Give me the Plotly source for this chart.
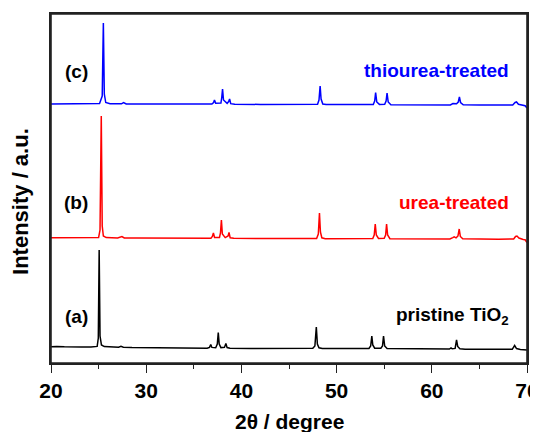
import plotly.graph_objects as go

# ---- data (intensity, a.u., relative to each pattern's own zero) ----
x_a = [20.0, 20.6, 21.4, 22.3, 23.2, 24.2, 24.85, 24.97, 25.06, 25.15, 25.3, 25.6, 26.3, 27.1, 27.35, 27.6,
       28.5, 30.5, 32.5, 34.5, 36.4, 36.65, 36.78, 36.9, 37.3, 37.47, 37.57, 37.67, 37.85, 38.22, 38.37, 38.5,
       38.8, 41.0, 44.0, 47.5, 47.72, 47.87, 47.98, 48.15, 48.5, 51.0, 53.4, 53.58, 53.7, 53.8, 54.0, 54.65,
       54.82, 54.93, 55.05, 55.3, 57.5, 60.0, 61.85, 62.02, 62.15, 62.45, 62.6, 62.72, 62.95, 63.5, 66.0,
       68.45, 68.7, 68.9, 69.3, 70.0]
y_a = [3.3, 3.6, 3.2, 3.4, 3.1, 3.0, 3.6, 12, 100, 14, 5, 3.4, 2.9, 2.8, 3.6, 2.7,
       2.4, 2.1, 2.0, 1.8, 1.8, 2.6, 5.5, 2.6, 2.2, 6, 17.5, 6, 2.4, 2.6, 6.5, 2.4,
       1.8, 1.6, 1.5, 1.7, 4, 23, 6, 2.2, 1.4, 1.2, 1.5, 4, 14, 5, 1.8, 1.8,
       4, 14, 4, 1.4, 1.0, 0.8, 0.9, 2.0, 1.2, 1.6, 10, 3.5, 1.2, 0.7, 0.5,
       0.7, 4.5, 1.4, 0.4, 0.1]

x_b = [20.0, 21.0, 22.5, 24.0, 25.0, 25.15, 25.28, 25.38, 25.5, 25.8, 27.0, 27.45, 27.7, 29.0, 32.0, 35.0,
       36.8, 36.95, 37.06, 37.18, 37.7, 37.8, 37.9, 38.0, 38.3, 38.6, 38.7, 38.82, 39.2, 42.0, 45.0, 47.9,
       48.08, 48.2, 48.3, 48.45, 48.8, 51.0, 53.8, 53.95, 54.06, 54.17, 54.4, 55.0, 55.15, 55.25, 55.36,
       55.6, 58.0, 61.9, 62.2, 62.35, 62.55, 62.75, 62.88, 63.0, 63.25, 64.5, 67.0, 68.6, 68.8, 68.95,
       69.15, 69.6, 69.8, 70.0]
y_b = [2.2, 2.3, 2.1, 2.1, 2.4, 10, 124, 14, 4, 2.4, 2.1, 3.5, 2.0, 1.9, 1.8, 1.7,
       1.8, 3.5, 7, 2.6, 2.6, 7, 20, 6, 2.4, 4, 7.5, 2.2, 1.7, 1.5, 1.4, 1.6,
       6, 27, 8, 2.2, 1.3, 1.2, 1.5, 5, 16, 5, 1.6, 1.8, 5, 16, 5,
       1.3, 1.0, 1.0, 2.4, 3.2, 2.2, 4, 11, 3.5, 1.2, 0.8, 0.7, 1.0, 3.5, 4,
       2, 0.5, 0.2, -2.5]

x_c = [20.0, 21.5, 23.0, 25.1, 25.38, 25.5, 25.6, 25.75, 26.2, 27.4, 27.62, 27.9, 30.0, 33.0, 36.9, 37.08,
       37.17, 37.3, 37.85, 37.93, 38.02, 38.12, 38.5, 38.66, 38.76, 38.88, 39.3, 42.0, 45.0, 48.0, 48.15,
       48.27, 48.37, 48.55, 48.9, 51.0, 53.85, 54.0, 54.1, 54.22, 54.5, 55.05, 55.2, 55.3, 55.42, 55.7,
       58.0, 61.95, 62.22, 62.38, 62.6, 62.78, 62.9, 63.02, 63.3, 65.0, 68.5, 68.75, 68.9, 69.1, 69.5,
       69.8, 70.0]
y_c = [2.0, 2.3, 2.1, 2.4, 10, 83, 12, 3.5, 2.3, 2.2, 3.5, 2.0, 1.9, 1.8, 1.9, 3.5,
       6, 2.8, 3, 8, 17, 6, 2.6, 4.5, 7, 2.3, 1.7, 1.6, 1.5, 1.7, 6,
       20, 7, 2.0, 1.4, 1.3, 1.5, 5, 13.5, 4, 1.6, 1.8, 5, 13, 4, 1.3,
       1.1, 1.0, 2.4, 2.5, 2.3, 4, 9, 3.5, 1.2, 0.9, 1.0, 3.5, 4, 1.8, 0.5,
       0.3, -2]

offset_a, offset_b, offset_c = 13, 123, 257
labels = ["pristine TiO<sub>2</sub>", "urea-treated", "thiourea-treated"]
tags = ["(a)", "(b)", "(c)"]
colors = ["#000000", "#ff0000", "#0000ff"]
x_ticks = [20, 30, 40, 50, 60, 70]

FONT = "Liberation Sans, Arial, sans-serif"
AX = "#222222"

fig = go.Figure()
for xs, ys, off, col in [(x_a, y_a, offset_a, colors[0]),
                         (x_b, y_b, offset_b, colors[1]),
                         (x_c, y_c, offset_c, colors[2])]:
    fig.add_trace(go.Scatter(x=xs, y=[v + off for v in ys], mode="lines",
                             line=dict(color=col, width=1.5), showlegend=False,
                             hoverinfo="skip"))

# tags and labels
tag_y = [47, 160.5, 292]
lab_y = [47, 161, 293]
for t, ty in zip(tags, tag_y):
    fig.add_annotation(x=22.65, y=ty, xref="x", yref="y", text=t, showarrow=False,
                       font=dict(family=FONT, size=19, color="#000000", weight="bold"),
                       xanchor="center", yanchor="middle")
for lab, ly, col in zip(labels, lab_y, colors):
    fig.add_annotation(x=68.3, y=ly, xref="x", yref="y", text=lab, showarrow=False,
                       font=dict(family=FONT, size=19, color=col, weight="bold"),
                       xanchor="right", yanchor="middle")

# axis titles
fig.add_annotation(x=-31 / 475, y=0.5 - 12.5 / 349, xref="paper", yref="paper",
                   text="Intensity / a.u.",
                   textangle=-90, showarrow=False, xanchor="center", yanchor="middle",
                   font=dict(family=FONT, size=22, color="#000000", weight="bold"))
fig.add_annotation(x=0.5, y=-59 / 349, xref="paper", yref="paper", text="2θ / degree",
                   showarrow=False, xanchor="center", yanchor="middle",
                   font=dict(family=FONT, size=21, color="#000000", weight="bold"))

# plot frame
fig.add_shape(type="rect", xref="paper", yref="paper", x0=0, y0=0, x1=1, y1=1,
              line=dict(color=AX, width=1.6), fillcolor="rgba(0,0,0,0)", layer="above")

# page has an 8px body margin, so the figure is 8px smaller and margins are shifted
fig.update_layout(
    width=530, height=424,
    margin=dict(l=43, r=11, t=6, b=69, autoexpand=False),
    paper_bgcolor="white", plot_bgcolor="white",
    xaxis=dict(range=[20, 70], tickvals=x_ticks, ticktext=[str(v) for v in x_ticks],
               ticks="outside", ticklen=8, tickwidth=1.4, tickcolor=AX,
               showline=True, linecolor=AX, linewidth=1.6, mirror=True,
               showgrid=False, zeroline=False, ticklabeloverflow="allow", automargin=False,
               tickfont=dict(family=FONT, size=21, color="#000000", weight="bold"),
               minor=dict(dtick=5, tick0=20, ticks="outside", ticklen=4, tickwidth=1.4,
                          tickcolor=AX, showgrid=False)),
    yaxis=dict(range=[0, 349], showticklabels=False, ticks="", showline=True, automargin=False,
               linecolor=AX, linewidth=1.6, mirror=True, showgrid=False, zeroline=False),
)

fig.write_html("out.html")
